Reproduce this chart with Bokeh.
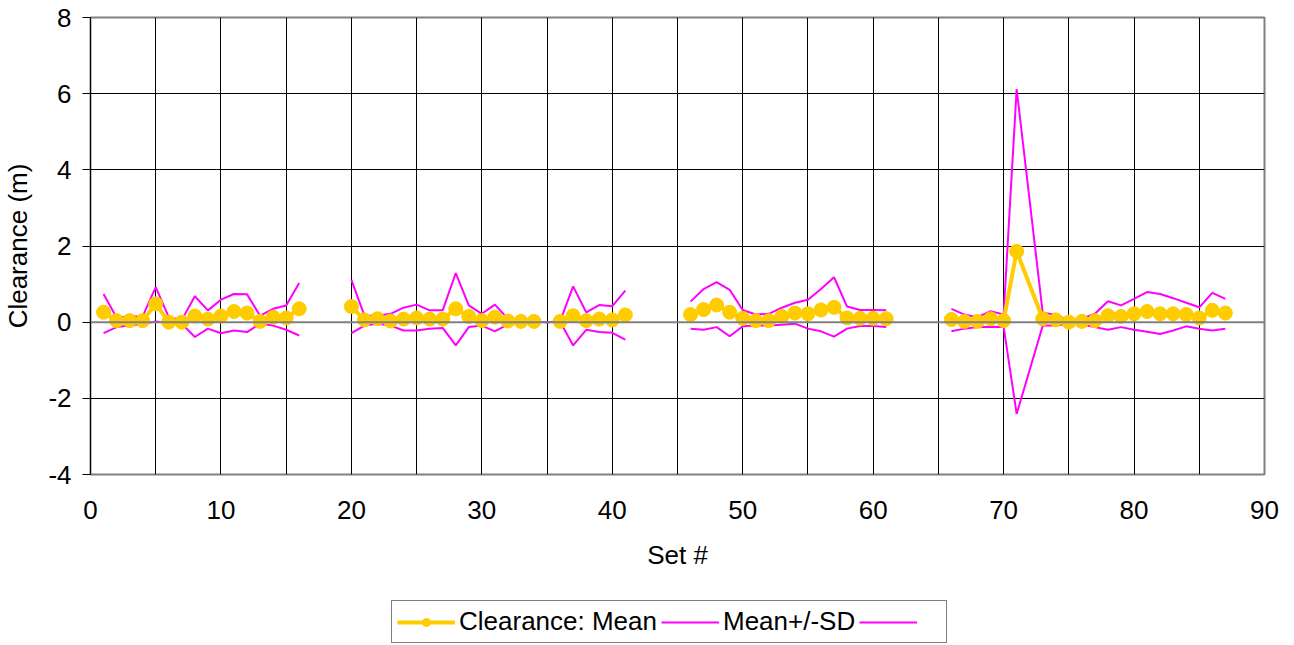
from bokeh.plotting import figure
from bokeh.layouts import column
from bokeh.models import (ColumnDataSource, Legend, LegendItem, Span, Range1d,
                          SingleIntervalTicker, PrintfTickFormatter)
from bokeh.embed import file_html
from bokeh.resources import INLINE
import numpy as np

N = None
set_no = list(range(1, 72)) + list(range(73, 88))

mean = [0.26, 0.04, 0.04, 0.04, 0.48, 0.0, 0.0, 0.16, 0.08, 0.16, 0.28, 0.24, 0.02, 0.13, 0.11, 0.35,
        N, N, N,
        0.41, 0.06, 0.09, 0.03, 0.08, 0.11, 0.08, 0.08, 0.35, 0.15, 0.04, 0.13, 0.03, 0.02, 0.02,
        N,
        0.02, 0.17, 0.04, 0.08, 0.06, 0.19,
        N, N, N, N,
        0.2, 0.33, 0.45, 0.26, 0.1, 0.04, 0.04, 0.15, 0.24, 0.22, 0.32, 0.39, 0.11, 0.1, 0.1, 0.09,
        N, N, N, N,
        0.07, 0.02, 0.02, 0.09, 0.04, 1.86,
        0.09, 0.06, 0.0, 0.02, 0.04, 0.17, 0.15, 0.22, 0.28, 0.22, 0.22, 0.2, 0.11, 0.31, 0.24]

upper = [0.74, 0.12, 0.15, 0.15, 0.92, 0.13, 0.06, 0.68, 0.31, 0.59, 0.74, 0.73, 0.17, 0.35, 0.44, 1.03,
         N, N, N,
         1.11, 0.17, 0.17, 0.22, 0.38, 0.46, 0.31, 0.31, 1.29, 0.44, 0.22, 0.46, 0.09, 0.03, 0.02,
         0.0,
         0.02, 0.94, 0.26, 0.45, 0.42, 0.83,
         N, N, N, N,
         0.54, 0.87, 1.05, 0.85, 0.32, 0.2, 0.22, 0.38, 0.51, 0.59, 0.87, 1.18, 0.41, 0.32, 0.32, 0.31,
         N, N, N, N,
         0.35, 0.2, 0.13, 0.29, 0.2, 6.12,
         0.24, 0.2, 0.04, 0.09, 0.22, 0.55, 0.44, 0.61, 0.79, 0.74, 0.63, 0.51, 0.39, 0.77, 0.61]

lower = [-0.29, -0.13, -0.09, -0.04, 0.02, -0.02, -0.04, -0.39, -0.17, -0.29, -0.22, -0.26, -0.04, -0.09, -0.2, -0.35,
         N, N, N,
         -0.29, -0.09, -0.04, -0.09, -0.22, -0.22, -0.17, -0.15, -0.61, -0.13, -0.09, -0.24, -0.06, 0.0, 0.01,
         0.0,
         0.02, -0.61, -0.2, -0.26, -0.28, -0.46,
         N, N, N, N,
         -0.17, -0.2, -0.13, -0.37, -0.11, -0.09, -0.09, -0.07, -0.04, -0.17, -0.24, -0.38, -0.17, -0.1, -0.1, -0.13,
         N, N, N, N,
         -0.24, -0.17, -0.13, -0.13, -0.12, -2.41,
         -0.09, -0.09, -0.04, -0.06, -0.13, -0.2, -0.13, -0.2, -0.25, -0.31, -0.22, -0.11, -0.17, -0.22, -0.17]

series_names = ["Clearance: Mean", "Mean+/-SD", " "]
x_ticks_interval = 10
y_ticks_interval = 2


def arr(v):
    return np.array([np.nan if a is None else a for a in v], dtype=float)


src = ColumnDataSource(dict(x=set_no, mean=arr(mean), upper=arr(upper), lower=arr(lower)))

FONT = "Liberation Sans"
FS = "26px"
YELLOW = "#FFCC00"
MAGENTA = "#FF00FF"

p = figure(frame_width=1174, frame_height=457, x_range=(0, 90), y_range=(-4, 8),
           output_backend="svg", toolbar_location=None,
           min_border_left=90, min_border_right=22, min_border_top=17,
           min_border_bottom=110)
p.background_fill_color = "white"
p.border_fill_color = "white"
p.outline_line_color = "#808080"
p.outline_line_width = 2

# axes
p.xaxis.ticker = SingleIntervalTicker(interval=x_ticks_interval, num_minor_ticks=2)
p.yaxis.ticker = SingleIntervalTicker(interval=y_ticks_interval, num_minor_ticks=0)
p.xaxis.formatter = PrintfTickFormatter(format="%d")
p.yaxis.formatter = PrintfTickFormatter(format="%d")
p.xaxis.axis_label = "Set #"
p.yaxis.axis_label = "Clearance (m)"
for ax in (p.xaxis, p.yaxis):
    ax.major_label_text_font = FONT
    ax.major_label_text_font_size = FS
    ax.major_label_text_color = "black"
    ax.axis_label_text_font = FONT
    ax.axis_label_text_font_size = FS
    ax.axis_label_text_font_style = "normal"
    ax.axis_label_text_color = "black"
    ax.minor_tick_line_color = None

p.xaxis.axis_line_color = None
p.xaxis.major_tick_line_color = None
p.xaxis.major_tick_out = 0
p.xaxis.major_tick_in = 0
p.xaxis.major_label_standoff = 22
p.xaxis.axis_label_standoff = 18

p.yaxis.axis_line_color = "black"
p.yaxis.axis_line_width = 1
p.yaxis.major_tick_line_color = "black"
p.yaxis.major_tick_out = 8
p.yaxis.major_tick_in = 0
p.yaxis.major_label_standoff = 11
p.yaxis.axis_label_standoff = 12

# grids
p.xgrid.grid_line_color = "black"
p.xgrid.grid_line_width = 1
p.xgrid.minor_grid_line_color = "black"
p.xgrid.minor_grid_line_width = 1
p.ygrid.grid_line_color = "black"
p.ygrid.grid_line_width = 1

zero = Span(location=0, dimension="width", line_color="#808080", line_width=2)
p.add_layout(zero)

# series
p.line("x", "upper", source=src, line_color=MAGENTA, line_width=2)
p.line("x", "lower", source=src, line_color=MAGENTA, line_width=2)
p.line("x", "mean", source=src, line_color=YELLOW, line_width=4)
p.scatter("x", "mean", source=src, marker="circle", size=14,
          fill_color=YELLOW, line_color=YELLOW)

# legend strip (separate panel below the chart); its renderers hold only a
# NaN placeholder so nothing is drawn except the legend samples
lg = figure(width=1286, height=61, x_range=Range1d(0, 1), y_range=Range1d(0, 1),
            output_backend="svg", toolbar_location=None,
            x_axis_type=None, y_axis_type=None,
            min_border_left=0, min_border_right=0, min_border_top=0, min_border_bottom=0)
lg.outline_line_color = None
lg.grid.visible = False
placeholder = ColumnDataSource(dict(x=[np.nan], y=[np.nan]))
l_mean = lg.line("x", "y", source=placeholder, line_color=YELLOW, line_width=4)
l_pts = lg.scatter("x", "y", source=placeholder, marker="circle", size=14,
                   fill_color=YELLOW, line_color=YELLOW)
l_up = lg.line("x", "y", source=placeholder, line_color=MAGENTA, line_width=2)
l_lo = lg.line("x", "y", source=placeholder, line_color=MAGENTA, line_width=2)

legend = Legend(items=[
    LegendItem(label=series_names[0], renderers=[l_mean, l_pts]),
    LegendItem(label=series_names[1], renderers=[l_up]),
    LegendItem(label=series_names[2], renderers=[l_lo]),
], orientation="horizontal", location=(301, 2))
legend.label_text_font = FONT
legend.label_text_font_size = FS
legend.label_text_color = "black"
legend.glyph_width = 58
legend.glyph_height = 20
legend.label_standoff = 4
legend.spacing = 4
legend.padding = 5
legend.margin = 0
legend.border_line_color = "black"
legend.border_line_width = 1
legend.background_fill_color = "white"
legend.background_fill_alpha = 1
lg.add_layout(legend)

layout = column(p, lg, spacing=0)
open("out.html", "w").write(file_html(layout, INLINE))
